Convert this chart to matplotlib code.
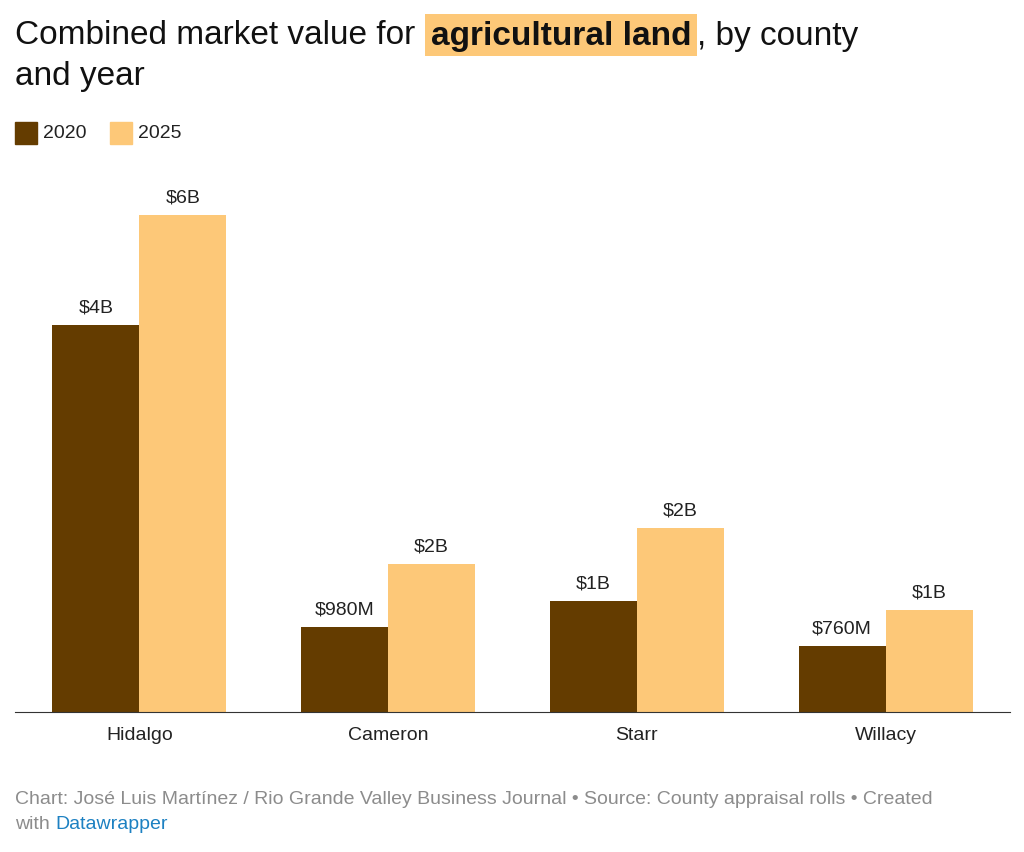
import matplotlib.pyplot as plt
import numpy as np

# === Data (millions of dollars) ===
counties = ["Hidalgo", "Cameron", "Starr", "Willacy"]
v2020 = [4460, 980, 1280, 760]
v2025 = [5725, 1705, 2120, 1175]
lab2020 = ["$4B", "$980M", "$1B", "$760M"]
lab2025 = ["$6B", "$2B", "$2B", "$1B"]

c2020 = "#643c00"
c2025 = "#fdc878"

plt.rcParams["font.family"] = "Liberation Sans"

# === Figure ===
fig = plt.figure(figsize=(10.24, 8.53), dpi=100)
ax = fig.add_axes([15 / 1024, 1 - 713 / 853, 995 / 1024, 560 / 853])

x = np.arange(len(counties))
w = 0.35
plt.bar(x - w / 2, v2020, width=w, color=c2020)
plt.bar(x + w / 2, v2025, width=w, color=c2025)
for i in range(len(counties)):
    plt.text(x[i] - w / 2, v2020[i] + 110, lab2020[i], ha="center", va="bottom", fontsize=14, color="#222222")
    plt.text(x[i] + w / 2, v2025[i] + 110, lab2025[i], ha="center", va="bottom", fontsize=14, color="#222222")

plt.xlim(-0.5, 3.5)
plt.ylim(0, 6450)
plt.xticks(x, counties, fontsize=14, color="#222222")
plt.yticks([])
ax.tick_params(axis="x", length=0, pad=10)
for s in ["top", "right", "left"]:
    ax.spines[s].set_visible(False)
ax.spines["bottom"].set_color("#333333")

# Title with highlighted phrase
r = fig.canvas.get_renderer()
t1 = fig.text(15 / 1024, 1 - 36 / 853, "Combined market value for ", fontsize=24, va="center", color="#111111")
bb = t1.get_window_extent(r)
t2 = fig.text(bb.x1 / 1024 + 0.006, 1 - 36 / 853, "agricultural land", fontsize=24, fontweight="bold", va="center",
              color="#111111", bbox=dict(facecolor=c2025, edgecolor="none", pad=4))
bb = t2.get_window_extent(r)
fig.text(bb.x1 / 1024 + 0.006, 1 - 36 / 853, ", by county", fontsize=24, va="center", color="#111111")
fig.text(15 / 1024, 1 - 76 / 853, "and year", fontsize=24, va="center", color="#111111")

# Legend
fig.patches.append(plt.Rectangle((15 / 1024, 1 - 145 / 853), 22 / 1024, 22 / 853, transform=fig.transFigure, color=c2020))
fig.text(43 / 1024, 1 - 134 / 853, "2020", fontsize=14, va="center", color="#222222")
fig.patches.append(plt.Rectangle((110 / 1024, 1 - 145 / 853), 22 / 1024, 22 / 853, transform=fig.transFigure, color=c2025))
fig.text(138 / 1024, 1 - 134 / 853, "2025", fontsize=14, va="center", color="#222222")

# Footer
fig.text(15 / 1024, 1 - 800 / 853, "Chart: José Luis Martínez / Rio Grande Valley Business Journal • Source: County appraisal rolls • Created",
         fontsize=14, va="center", color="#8c8c8c")
t3 = fig.text(15 / 1024, 1 - 825 / 853, "with ", fontsize=14, va="center", color="#8c8c8c")
bb = t3.get_window_extent(r)
fig.text(bb.x1 / 1024, 1 - 825 / 853, "Datawrapper", fontsize=14, va="center", color="#1d81c2")

plt.savefig("out.png", dpi=100)
plt.close()
